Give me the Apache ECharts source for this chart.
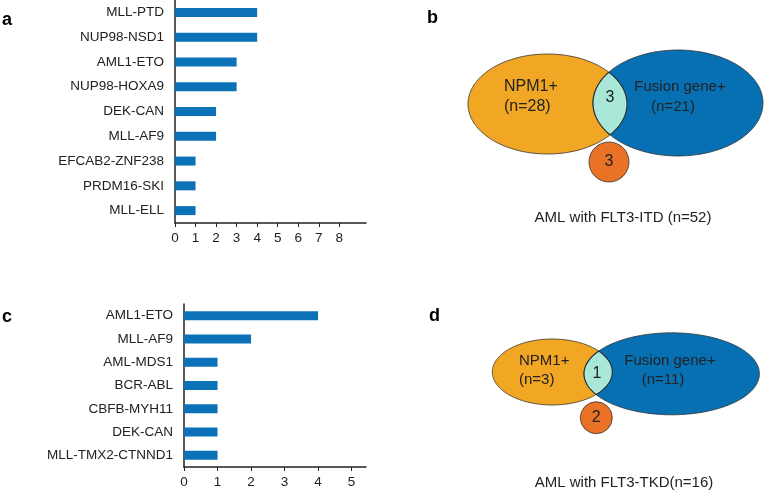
<!DOCTYPE html>
<html>
<head>
<meta charset="utf-8">
<script src="https://cdn.jsdelivr.net/npm/echarts@6/dist/echarts.min.js"></script>
<style>
html, body { margin: 0; padding: 0; background: #fff; }
#main { width: 764px; height: 493px; }
</style>
</head>
<body>
<div id="main"></div>
<script>
// a: fusion genes in AML with FLT3-ITD
var itdGenes = ['MLL-PTD', 'NUP98-NSD1', 'AML1-ETO', 'NUP98-HOXA9', 'DEK-CAN', 'MLL-AF9', 'EFCAB2-ZNF238', 'PRDM16-SKI', 'MLL-ELL'];
var itdCounts = [4, 4, 3, 3, 2, 2, 1, 1, 1];
var itdTicks = [0, 1, 2, 3, 4, 5, 6, 7, 8];

// c: fusion genes in AML with FLT3-TKD
var tkdGenes = ['AML1-ETO', 'MLL-AF9', 'AML-MDS1', 'BCR-ABL', 'CBFB-MYH11', 'DEK-CAN', 'MLL-TMX2-CTNND1'];
var tkdCounts = [4, 2, 1, 1, 1, 1, 1];
var tkdTicks = [0, 1, 2, 3, 4, 5];

// b / d: venn counts -> NPM1+, Fusion gene+, overlap, small circle
var vennSets = ['NPM1+', 'Fusion gene+'];
var itdVenn = [28, 21, 3, 3];
var tkdVenn = [3, 11, 1, 2];
var itdCaption = 'AML with FLT3-ITD (n=52)';
var tkdCaption = 'AML with FLT3-TKD(n=16)';

var FONT = 'Liberation Sans, Arial, sans-serif';
var TXT = '#222';

// venn layouts (panel units)
var layoutB = {
    a: { cx: 107.5, cy: 104, rx: 79.5, ry: 50 },
    b: { cx: 238, cy: 103, rx: 85, ry: 53 },
    s: { cx: 169, cy: 162, r: 20 },
    aLab: [64, 87], aN: [64, 107], aSize: 16,
    bLab: [240, 87], bN: [233, 107],
    both: [170, 98], cap: [183, 218]
};
var layoutD = {
    a: { cx: 112.3, cy: 122, rx: 60, ry: 33 },
    b: { cx: 231.7, cy: 123.8, rx: 87.7, ry: 41 },
    s: { cx: 156.3, cy: 167.7, r: 16 },
    aLab: [79, 111], aN: [79, 130], aSize: 15,
    bLab: [230, 111], bN: [223, 130],
    both: [157, 124], cap: [184, 233]
};

var myChart = echarts.init(document.getElementById('main'));

function ellipse(api, e) {
    var c = api.coord([e.cx, e.cy]);
    var s = api.size([e.rx, e.ry]);
    var pts = [];
    for (var i = 0; i < 240; i++) {
        var t = i / 240 * Math.PI * 2;
        pts.push([c[0] + s[0] * Math.cos(t), c[1] + s[1] * Math.sin(t)]);
    }
    return { pts: pts, cx: c[0], cy: c[1], rx: s[0], ry: s[1] };
}

function inside(p, E) {
    var dx = (p[0] - E.cx) / E.rx, dy = (p[1] - E.cy) / E.ry;
    return dx * dx + dy * dy <= 1;
}

function txt(api, pos, str, size, align) {
    var p = api.coord(pos);
    return {
        type: 'text',
        style: {
            x: p[0], y: p[1], text: str, fill: TXT,
            fontSize: size, fontFamily: FONT,
            align: align || 'center', verticalAlign: 'middle'
        }
    };
}

function vennRender(counts, caption, L) {
    return function (params, api) {
        var A = ellipse(api, L.a);
        var B = ellipse(api, L.b);
        // overlap region
        var lens = [];
        A.pts.forEach(function (p) { if (inside(p, B)) lens.push(p); });
        B.pts.forEach(function (p) { if (inside(p, A)) lens.push(p); });
        var mx = 0, my = 0;
        lens.forEach(function (p) { mx += p[0]; my += p[1]; });
        mx /= lens.length; my /= lens.length;
        lens.sort(function (p, q) {
            return Math.atan2(p[1] - my, p[0] - mx) - Math.atan2(q[1] - my, q[0] - mx);
        });
        var sc = api.coord([L.s.cx, L.s.cy]);
        var sr = api.size([L.s.r, L.s.r])[0];
        var stroke = { stroke: '#333', lineWidth: 0.8 };
        return {
            type: 'group',
            children: [
                { type: 'polygon', shape: { points: A.pts }, style: Object.assign({ fill: '#f2a724' }, stroke) },
                { type: 'polygon', shape: { points: B.pts }, style: Object.assign({ fill: '#0670b3' }, stroke) },
                { type: 'polygon', shape: { points: lens }, style: { fill: '#a9e7d9', stroke: '#2a2a2a', lineWidth: 1.1 } },
                { type: 'circle', shape: { cx: sc[0], cy: sc[1], r: sr }, style: Object.assign({ fill: '#ea7227' }, stroke) },
                txt(api, L.aLab, vennSets[0], L.aSize, 'left'),
                txt(api, L.aN, '(n=' + counts[0] + ')', L.aSize, 'left'),
                txt(api, L.bLab, vennSets[1], 15),
                txt(api, L.bN, '(n=' + counts[1] + ')', 15),
                txt(api, L.both, String(counts[2]), 16),
                txt(api, [L.s.cx, L.s.cy], String(counts[3]), 16),
                txt(api, L.cap, caption, 15)
            ]
        };
    };
}

function catAxis(grid, names) {
    return {
        type: 'category', gridIndex: grid, data: names, inverse: true,
        axisLine: { lineStyle: { color: '#222', width: 1.5 } },
        axisTick: { show: false },
        axisLabel: { color: TXT, fontSize: 13.5, fontFamily: FONT, margin: 11 }
    };
}

function valAxis(grid, max, ticks) {
    return {
        type: 'value', gridIndex: grid, min: 0, max: max, interval: 1,
        splitLine: { show: false },
        axisLine: { show: true, lineStyle: { color: '#222', width: 1.5 } },
        axisTick: { show: true, length: 4, customValues: ticks, lineStyle: { color: '#222' } },
        axisLabel: { color: TXT, fontSize: 13.5, fontFamily: FONT, margin: 8, customValues: ticks }
    };
}

var letter = { fontSize: 18, fontWeight: 'bold', color: '#000', fontFamily: FONT };

var option = {
    animation: false,
    title: [
        { text: 'a', left: 2, top: 11, padding: 0, textStyle: letter },
        { text: 'b', left: 427, top: 9, padding: 0, textStyle: letter },
        { text: 'c', left: 2, top: 308, padding: 0, textStyle: letter },
        { text: 'd', left: 429, top: 307, padding: 0, textStyle: letter }
    ],
    grid: [
        { left: 175, top: -3, width: 191, height: 226 },
        { left: 184, top: 304, width: 182, height: 163 },
        { left: 440, top: 0, width: 324, height: 250 },
        { left: 440, top: 250, width: 324, height: 243 }
    ],
    xAxis: [
        valAxis(0, 9.3, itdTicks),
        valAxis(1, 5.43, tkdTicks),
        { type: 'value', gridIndex: 2, min: 0, max: 324, show: false },
        { type: 'value', gridIndex: 3, min: 0, max: 324, show: false }
    ],
    yAxis: [
        catAxis(0, itdGenes),
        catAxis(1, tkdGenes),
        { type: 'value', gridIndex: 2, min: 0, max: 250, inverse: true, show: false },
        { type: 'value', gridIndex: 3, min: 0, max: 243, inverse: true, show: false }
    ],
    series: [
        { type: 'bar', xAxisIndex: 0, yAxisIndex: 0, data: itdCounts, barWidth: 9, itemStyle: { color: '#0b72b7' } },
        { type: 'bar', xAxisIndex: 1, yAxisIndex: 1, data: tkdCounts, barWidth: 9, itemStyle: { color: '#0b72b7' } },
        { type: 'custom', xAxisIndex: 2, yAxisIndex: 2, data: [[0, 0]], silent: true, renderItem: vennRender(itdVenn, itdCaption, layoutB) },
        { type: 'custom', xAxisIndex: 3, yAxisIndex: 3, data: [[0, 0]], silent: true, renderItem: vennRender(tkdVenn, tkdCaption, layoutD) }
    ]
};

myChart.setOption(option);
</script>
</body>
</html>
